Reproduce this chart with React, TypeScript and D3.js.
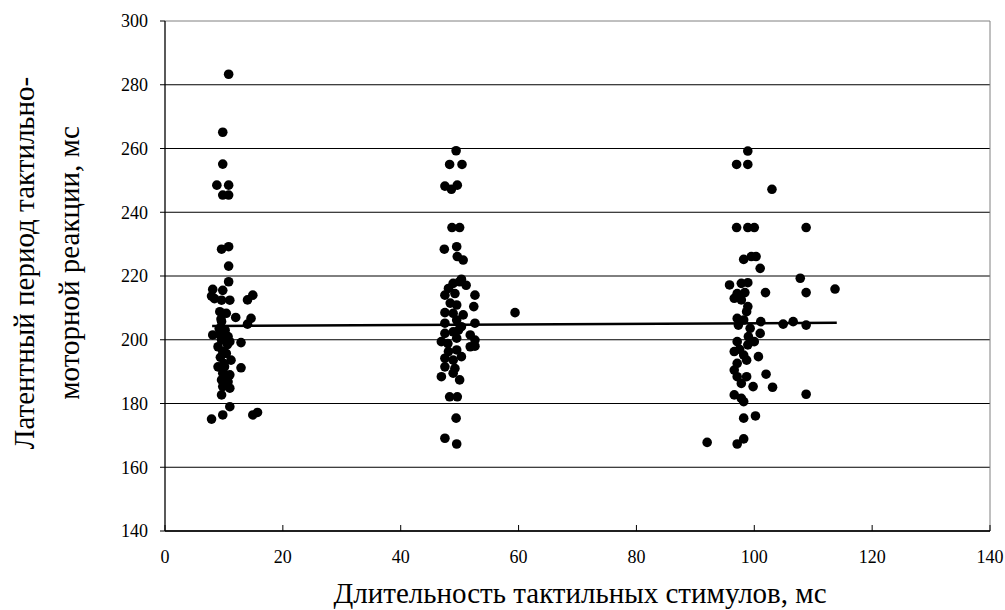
import React from "react";
import * as d3 from "d3";

// stimulus duration (ms), jittered around 10 / 50 / 100
const durations10 = [
  10.8, 9.8, 9.8, 8.8, 10.8, 9.8, 10.8, 9.6, 10.8, 10.8, 10.8, 8.1, 7.9, 9.8, 8.4, 9.6, 11.0,
  14.9, 14.0, 9.3, 10.4, 12.0, 14.6, 14.0, 9.6, 8.1, 9.3, 10.7, 9.6, 11.0, 12.9, 9.0, 9.8,
  10.4, 11.2, 9.0, 10.1, 12.9, 9.8, 11.0, 9.6, 10.7, 9.8, 11.0, 9.6, 11.0, 9.8, 7.9, 14.9,
  15.7, 10.2, 9.2, 10.6, 9.4, 10.0, 10.5, 9.5,
];
const latencies10 = [
  283.3, 265.1, 255.1, 248.5, 248.5, 245.4, 245.4, 228.4, 229.2, 223.1, 218.2, 215.8, 213.7,
  215.5, 212.9, 212.4, 212.4, 214.0, 212.5, 208.8, 208.3, 207.0, 206.7, 204.9, 205.7, 201.5,
  201.5, 201.0, 199.9, 199.4, 199.1, 197.8, 196.3, 195.7, 193.6, 191.5, 191.5, 191.2, 189.5,
  189.0, 187.4, 186.8, 185.3, 184.8, 182.7, 179.0, 176.4, 175.1, 176.4, 177.2, 203.0, 203.5,
  198.5, 194.5, 192.5, 188.0, 206.5,
];

const durations50 = [
  49.4, 48.3, 50.4, 47.5, 48.6, 49.6, 48.7, 50.0, 47.4, 49.5, 49.6, 50.6, 50.3, 48.9, 50.0,
  51.1, 48.1, 47.5, 49.2, 52.6, 49.5, 52.4, 47.5, 48.9, 50.6, 59.4, 47.5, 49.5, 52.6, 50.3,
  47.5, 48.9, 51.8, 52.6, 46.9, 49.5, 51.8, 52.6, 48.1, 49.5, 50.3, 47.5, 48.9, 47.5, 49.2,
  46.9, 50.0, 48.9, 48.3, 49.6, 49.4, 47.5, 49.5, 48.4, 49.8, 48.0,
];
const latencies50 = [
  259.3, 255.0, 255.0, 248.2, 247.2, 248.5, 235.2, 235.2, 228.4, 229.2, 226.1, 225.0, 219.0,
  217.7, 218.2, 217.1, 216.1, 214.0, 214.5, 214.0, 210.9, 210.4, 208.5, 208.3, 207.8, 208.5,
  205.2, 206.2, 205.2, 204.1, 202.0, 202.5, 201.5, 199.9, 199.4, 200.5, 197.8, 198.0, 196.3,
  196.8, 194.7, 194.2, 193.6, 191.5, 191.0, 188.4, 187.4, 189.5, 182.1, 182.1, 175.4, 169.1,
  167.3, 211.5, 203.0, 198.8,
];

const durations100 = [
  98.9, 97.0, 98.9, 103.0, 97.0, 98.9, 100.0, 108.8, 98.2, 99.5, 100.3, 101.0, 107.8, 95.8,
  97.8, 98.9, 113.7, 108.8, 101.9, 97.1, 98.4, 96.6, 97.8, 98.9, 98.7, 97.1, 98.2, 97.3, 99.3,
  101.1, 104.9, 106.6, 108.8, 101.0, 97.1, 100.0, 98.9, 96.6, 98.2, 100.7, 97.1, 98.7, 96.6,
  102.0, 98.7, 97.1, 97.8, 99.8, 103.1, 108.8, 96.6, 97.8, 98.2, 98.2, 100.2, 92.0, 97.1,
  98.2, 99.0, 97.5,
];
const latencies100 = [
  259.2, 255.0, 255.0, 247.2, 235.2, 235.2, 235.2, 235.2, 225.2, 226.1, 226.1, 222.4, 219.3,
  217.2, 217.7, 217.9, 215.9, 214.8, 214.8, 214.5, 214.8, 213.0, 212.5, 210.4, 208.8, 206.7,
  206.2, 204.6, 203.6, 205.7, 204.9, 205.7, 204.6, 202.0, 199.4, 199.4, 198.4, 196.3, 195.2,
  194.7, 192.6, 193.6, 190.5, 189.2, 188.4, 188.4, 186.3, 185.3, 185.1, 182.9, 182.7, 181.6,
  180.6, 175.4, 176.1, 167.8, 167.3, 168.9, 201.0, 197.0,
];

// linear trend endpoints
const trendX = [8, 114];
const trendY = [204.3, 205.3];

const xTicks = [0, 20, 40, 60, 80, 100, 120, 140];
const yTicks = [140, 160, 180, 200, 220, 240, 260, 280, 300];

const xTitle = "Длительность тактильных стимулов, мс";
const yTitleLines = ["Латентный период тактильно-", "моторной реакции, мс"];

const W = 1005;
const H = 610;
const margin = { left: 165, right: 15, top: 21, bottom: 79 };
const FONT = "Liberation Serif, Times New Roman, DejaVu Serif, serif";

const App = () => {
  const x = d3.scaleLinear().domain([0, 140]).range([margin.left, W - margin.right]);
  const y = d3.scaleLinear().domain([140, 300]).range([H - margin.bottom, margin.top]);

  const points = [
    ...durations10.map((d, i) => [d, latencies10[i]]),
    ...durations50.map((d, i) => [d, latencies50[i]]),
    ...durations100.map((d, i) => [d, latencies100[i]]),
  ];

  const line = d3
    .line<number>()
    .x((d) => x(d))
    .y((_, i) => y(trendY[i]));

  const x0 = x(0);
  const x1 = x(140);
  const y0 = y(140);
  const y1 = y(300);
  const txt = { fontFamily: FONT };

  return (
    <svg width={W} height={H} style={{ position: "absolute", left: 0, top: 0, background: "#fff" }}>
      {/* grid */}
      {yTicks.map((t) => (
        <line key={"g" + t} x1={x0} x2={x1} y1={y(t)} y2={y(t)} stroke={t === 300 ? "#808080" : "#000"} strokeWidth={1} />
      ))}
      {/* right border */}
      <line x1={x1} x2={x1} y1={y1} y2={y0} stroke="#808080" strokeWidth={1} />
      {/* axes */}
      <line x1={x0} x2={x0} y1={y1} y2={y0} stroke="#000" strokeWidth={1.3} />
      <line x1={x0} x2={x1} y1={y0} y2={y0} stroke="#000" strokeWidth={1.3} />
      {yTicks.map((t) => (
        <g key={"y" + t}>
          <line x1={x0 - 5} x2={x0} y1={y(t)} y2={y(t)} stroke="#000" />
          <text x={x0 - 17} y={y(t)} dy="0.35em" textAnchor="end" style={txt} fontSize={18}>
            {t}
          </text>
        </g>
      ))}
      {xTicks.map((t) => (
        <g key={"x" + t}>
          <line x1={x(t)} x2={x(t)} y1={y0} y2={y0 - 6} stroke="#000" />
          <text x={x(t)} y={y0 + 32} textAnchor="middle" style={txt} fontSize={18}>
            {t}
          </text>
        </g>
      ))}
      {/* points */}
      {points.map((p, i) => (
        <circle key={i} cx={x(p[0])} cy={y(p[1])} r={4.8} fill="#000" />
      ))}
      {/* trend */}
      <path d={line(trendX) || ""} fill="none" stroke="#000" strokeWidth={2.5} />
      {/* titles */}
      <text x={580} y={603} textAnchor="middle" style={txt} fontSize={29}>
        {xTitle}
      </text>
      {yTitleLines.map((s, i) => (
        <text
          key={i}
          transform={`translate(${34 + i * 45},${263}) rotate(-90)`}
          textAnchor="middle"
          style={txt}
          fontSize={29}
        >
          {s}
        </text>
      ))}
    </svg>
  );
};

export default App;
